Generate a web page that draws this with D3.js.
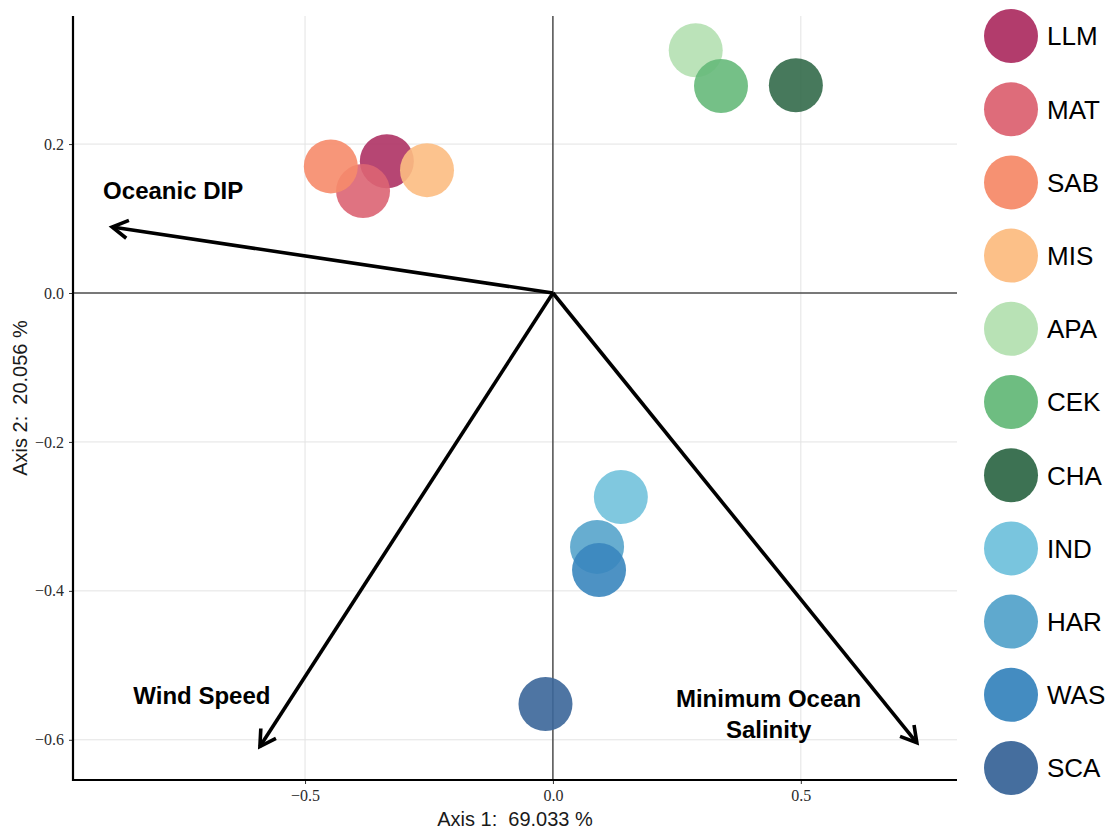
<!DOCTYPE html>
<html>
<head>
<meta charset="utf-8">
<script src="https://cdn.jsdelivr.net/npm/d3@7"></script>
<style>
  html, body { margin: 0; padding: 0; background: #fff; }
  svg { display: block; }
  text { white-space: pre; }
</style>
</head>
<body>
<svg id="chart" width="1115" height="831"></svg>
<script>
// Sites and their ordination scores (Axis 1, Axis 2)
const sites   = ["LLM", "MAT", "SAB", "MIS", "APA", "CEK", "CHA", "IND", "HAR", "WAS", "SCA"];
const axis1   = [-0.335, -0.383, -0.448, -0.254, 0.288, 0.339, 0.490, 0.137, 0.089, 0.093, -0.015];
const axis2   = [ 0.177,  0.137,  0.170,  0.165, 0.326, 0.278, 0.279, -0.274, -0.341, -0.372, -0.552];
const colours = ["#ae3264", "#dc6473", "#f68b6a", "#fcbd82", "#b4e0b1", "#66b97a", "#336a4a",
                 "#72c2dc", "#56a4cb", "#3a86be", "#3b6699"];

// Environmental vectors (arrow tips) and their label anchors
const vectorNames  = ["Oceanic DIP", "Wind Speed", "Minimum Ocean\nSalinity"];
const vectorX      = [-0.889, -0.591, 0.734];
const vectorY      = [ 0.0886, -0.609, -0.604];
const vectorLabelX = [-0.766, -0.708, 0.435];
const vectorLabelY = [ 0.138, -0.540, -0.545];

// Axis ticks
const xTicks = [-0.5, 0, 0.5];
const yTicks = [-0.6, -0.4, -0.2, 0, 0.2];
const xTitle = "Axis 1:  69.033 %";
const yTitle = "Axis 2:  20.056 %";

const svg = d3.select("#chart");
const panel = { left: 73, right: 957, top: 16, bottom: 780 };

const x = d3.scaleLinear().domain([-0.968, 0.815]).range([panel.left, panel.right]);
const y = d3.scaleLinear().domain([-0.654, 0.372]).range([panel.bottom, panel.top]);

const fmt = v => (v < 0 ? "\u2212" : "") + Math.abs(v).toFixed(1);

// Grid
const grid = svg.append("g");
grid.selectAll("line.gx").data(xTicks).join("line")
  .attr("x1", d => x(d)).attr("x2", d => x(d))
  .attr("y1", panel.top).attr("y2", panel.bottom)
  .attr("stroke", "#e3e3e3").attr("stroke-width", 1);
grid.selectAll("line.gy").data(yTicks).join("line")
  .attr("x1", panel.left).attr("x2", panel.right)
  .attr("y1", d => y(d)).attr("y2", d => y(d))
  .attr("stroke", "#e3e3e3").attr("stroke-width", 1);

// Zero reference lines
svg.append("line").attr("x1", x(0)).attr("x2", x(0))
  .attr("y1", panel.top).attr("y2", panel.bottom)
  .attr("stroke", "#000").attr("stroke-width", 1);
svg.append("line").attr("x1", panel.left).attr("x2", panel.right)
  .attr("y1", y(0)).attr("y2", y(0))
  .attr("stroke", "#000").attr("stroke-width", 1);

// Axes
const xAxis = svg.append("g").attr("transform", `translate(0,${panel.bottom})`)
  .call(d3.axisBottom(x).tickValues(xTicks).tickFormat(fmt).tickSize(4).tickPadding(6));
const yAxis = svg.append("g").attr("transform", `translate(${panel.left},0)`)
  .call(d3.axisLeft(y).tickValues(yTicks).tickFormat(fmt).tickSize(4).tickPadding(5));
[xAxis, yAxis].forEach(a => {
  a.select(".domain").remove();
  a.selectAll(".tick line").attr("stroke", "#333");
  a.selectAll(".tick text")
    .attr("font-family", "Liberation Serif, Times New Roman, serif")
    .attr("font-size", 16).attr("fill", "#2b2b2b");
});
svg.append("line").attr("x1", panel.left).attr("x2", panel.left)
  .attr("y1", panel.top).attr("y2", panel.bottom + 1)
  .attr("stroke", "#000").attr("stroke-width", 2.2);
svg.append("line").attr("x1", panel.left - 1).attr("x2", panel.right)
  .attr("y1", panel.bottom).attr("y2", panel.bottom)
  .attr("stroke", "#000").attr("stroke-width", 2.2);

// Axis titles
svg.append("text").text(xTitle)
  .attr("x", (panel.left + panel.right) / 2).attr("y", 826)
  .attr("text-anchor", "middle")
  .attr("font-family", "Liberation Sans, Arial, sans-serif")
  .attr("font-size", 20).attr("fill", "#1a1a1a");
svg.append("text").text(yTitle)
  .attr("transform", `translate(27,${(panel.top + panel.bottom) / 2}) rotate(-90)`)
  .attr("text-anchor", "middle")
  .attr("font-family", "Liberation Sans, Arial, sans-serif")
  .attr("font-size", 20).attr("fill", "#1a1a1a");

// Site points
const points = sites.map((s, i) => ({ site: s, a1: axis1[i], a2: axis2[i], colour: colours[i] }));
svg.append("g").selectAll("circle").data(points).join("circle")
  .attr("cx", d => x(d.a1)).attr("cy", d => y(d.a2)).attr("r", 27)
  .attr("fill", d => d.colour).attr("fill-opacity", 0.9);

// Environmental vectors with open arrow heads
const vectors = vectorNames.map((n, i) => ({
  name: n, vx: vectorX[i], vy: vectorY[i], lx: vectorLabelX[i], ly: vectorLabelY[i]
}));
const vg = svg.append("g").attr("stroke", "#000").attr("stroke-width", 3.6)
  .attr("fill", "none").attr("stroke-linecap", "butt");
vectors.forEach(v => {
  const x0 = x(0), y0 = y(0), x1 = x(v.vx), y1 = y(v.vy);
  vg.append("line").attr("x1", x0).attr("y1", y0).attr("x2", x1).attr("y2", y1);
  const ang = Math.atan2(y1 - y0, x1 - x0);
  const len = 18, spread = Math.PI / 6;
  const p = d3.path();
  p.moveTo(x1 - len * Math.cos(ang - spread), y1 - len * Math.sin(ang - spread));
  p.lineTo(x1, y1);
  p.lineTo(x1 - len * Math.cos(ang + spread), y1 - len * Math.sin(ang + spread));
  vg.append("path").attr("d", p.toString()).attr("stroke-linejoin", "miter");
});
const lg = svg.append("g")
  .attr("font-family", "Liberation Sans, Arial, sans-serif")
  .attr("font-weight", "bold").attr("font-size", 24).attr("fill", "#000")
  .attr("text-anchor", "middle");
vectors.forEach(v => {
  const lines = v.name.split("\n");
  const t = lg.append("text").attr("x", x(v.lx)).attr("y", y(v.ly));
  lines.forEach((ln, j) => {
    t.append("tspan").attr("x", x(v.lx)).attr("dy", j === 0 ? "0.35em" : 31).text(ln);
  });
});

// Legend
const legend = svg.append("g").attr("transform", "translate(1011,36)");
const item = legend.selectAll("g").data(points).join("g")
  .attr("transform", (d, i) => `translate(0,${i * 73.2})`);
item.append("circle").attr("r", 27).attr("fill", d => d.colour).attr("fill-opacity", 0.95);
item.append("text").attr("x", 36).attr("dy", "0.36em").text(d => d.site)
  .attr("font-family", "Liberation Sans, Arial, sans-serif")
  .attr("font-size", 26).attr("fill", "#000");
</script>
</body>
</html>
